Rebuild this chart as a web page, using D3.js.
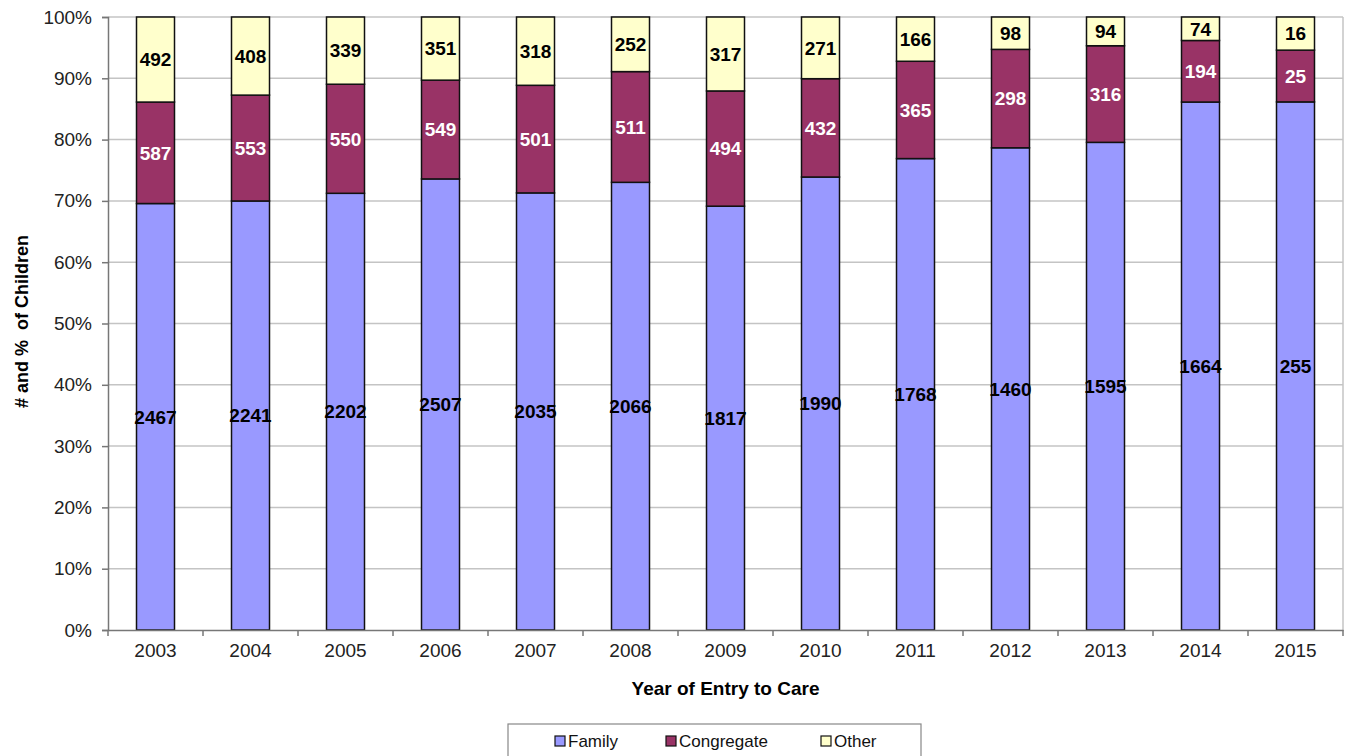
<!DOCTYPE html>
<html>
<head>
<meta charset="utf-8">
<script src="https://cdn.jsdelivr.net/npm/d3@7"></script>
<style>
  body { margin: 0; background: #fff; }
  text { font-family: "Liberation Sans", Arial, sans-serif; }
</style>
</head>
<body>
<svg width="1351" height="756"></svg>
<script>
const years = ['2003','2004','2005','2006','2007','2008','2009','2010','2011','2012','2013','2014','2015'];
const family = [2467, 2241, 2202, 2507, 2035, 2066, 1817, 1990, 1768, 1460, 1595, 1664, 255];
const congregate = [587, 553, 550, 549, 501, 511, 494, 432, 365, 298, 316, 194, 25];
const other = [492, 408, 339, 351, 318, 252, 317, 271, 166, 98, 94, 74, 16];
const seriesNames = ['Family', 'Congregate', 'Other'];
const colors = ['#9999ff', '#993366', '#ffffcc'];
const labelColors = ['#000', '#fff', '#000'];
const yTicks = [0, 0.1, 0.2, 0.3, 0.4, 0.5, 0.6, 0.7, 0.8, 0.9, 1];

const svg = d3.select('svg');
const margin = {left: 108, top: 17, right: 8, bottom: 126};
const width = +svg.attr('width');
const height = +svg.attr('height');
const innerW = width - margin.left - margin.right;
const innerH = height - margin.top - margin.bottom;

const rows = years.map((y, i) => ({year: y, Family: family[i], Congregate: congregate[i], Other: other[i]}));
const stack = d3.stack().keys(seriesNames).offset(d3.stackOffsetExpand);
const layers = stack(rows);

const x = d3.scaleBand().domain(years).range([0, innerW]).paddingInner(0.6).paddingOuter(0.3);
const y = d3.scaleLinear().domain([0, 1]).range([innerH, 0]);

const g = svg.append('g').attr('transform', `translate(${margin.left},${margin.top})`);

// grid
g.selectAll('.grid').data(yTicks.slice(1)).enter().append('line')
  .attr('x1', 0).attr('x2', innerW)
  .attr('y1', d => y(d)).attr('y2', d => y(d))
  .attr('stroke', '#c4c4c4').attr('stroke-width', 1.5);
g.append('line').attr('x1', innerW).attr('x2', innerW).attr('y1', 0).attr('y2', innerH)
  .attr('stroke', '#c4c4c4').attr('stroke-width', 1.5);

// bars
const layer = g.selectAll('.layer').data(layers).enter().append('g')
  .attr('fill', (d, i) => colors[i]);
layer.selectAll('rect').data(d => d).enter().append('rect')
  .attr('x', d => x(d.data.year))
  .attr('width', x.bandwidth())
  .attr('y', d => y(d[1]))
  .attr('height', d => y(d[0]) - y(d[1]))
  .attr('stroke', '#111').attr('stroke-width', 1.5);

// labels
layers.forEach((ly, i) => {
  g.append('g').selectAll('text').data(ly).enter().append('text')
    .attr('x', d => x(d.data.year) + x.bandwidth() / 2)
    .attr('y', d => y((d[0] + d[1]) / 2))
    .attr('dy', '0.36em')
    .attr('text-anchor', 'middle')
    .attr('font-size', 19).attr('font-weight', 'bold')
    .attr('fill', labelColors[i])
    .text(d => d.data[ly.key]);
});

// y axis
const yAxis = g.append('g').call(d3.axisLeft(y).tickValues(yTicks).tickFormat(d3.format('.0%')).tickSize(6).tickPadding(10));
yAxis.select('.domain').attr('stroke', '#777').attr('stroke-width', 1.5);
yAxis.selectAll('.tick line').attr('stroke', '#777').attr('stroke-width', 1.5);
yAxis.selectAll('.tick text').attr('font-size', 19).attr('fill', '#222')
  .style('font-family', '"Liberation Sans", Arial, sans-serif');

// x axis
const xAxis = g.append('g').attr('transform', `translate(0,${innerH})`)
  .call(d3.axisBottom(x).tickSize(0).tickPadding(14));
xAxis.select('.domain').attr('stroke', '#777').attr('stroke-width', 1.5);
xAxis.selectAll('.tick text').attr('font-size', 19).attr('fill', '#222')
  .style('font-family', '"Liberation Sans", Arial, sans-serif');
const step = x.step();
g.append('g').selectAll('line').data(d3.range(years.length + 1)).enter().append('line')
  .attr('x1', i => i * step).attr('x2', i => i * step)
  .attr('y1', innerH).attr('y2', innerH + 6)
  .attr('stroke', '#777').attr('stroke-width', 1.5);

// axis titles
svg.append('text').attr('x', margin.left + innerW / 2).attr('y', 695)
  .attr('text-anchor', 'middle').attr('font-size', 19).attr('font-weight', 'bold')
  .text('Year of Entry to Care');
svg.append('text').attr('transform', `translate(28,${margin.top + innerH / 2 - 2}) rotate(-90)`)
  .attr('text-anchor', 'middle').attr('font-size', 18).attr('font-weight', 'bold')
  .attr('xml:space', 'preserve')
  .text('# and %  of Children');

// legend
const legend = svg.append('g');
legend.append('rect').attr('x', 508).attr('y', 724).attr('width', 413).attr('height', 40)
  .attr('fill', '#fff').attr('stroke', '#888').attr('stroke-width', 1.2);
const legendX = [555, 666, 821];
seriesNames.forEach((name, i) => {
  legend.append('rect').attr('x', legendX[i]).attr('y', 736).attr('width', 10).attr('height', 10)
    .attr('fill', colors[i]).attr('stroke', '#111').attr('stroke-width', 1.2);
  legend.append('text').attr('x', legendX[i] + 13).attr('y', 747)
    .attr('font-size', 17).attr('fill', '#111').text(name);
});
</script>
</body>
</html>
